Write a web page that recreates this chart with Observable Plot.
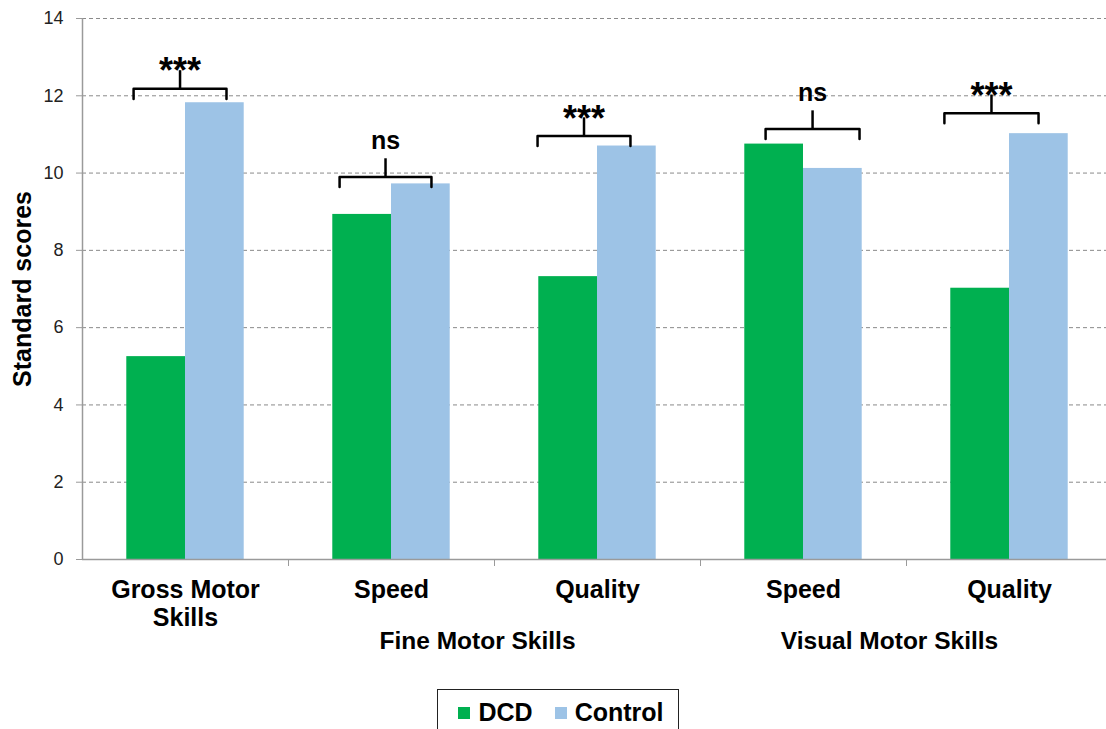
<!DOCTYPE html>
<html>
<head>
<meta charset="utf-8">
<script src="https://cdn.jsdelivr.net/npm/d3@7"></script>
<script src="https://cdn.jsdelivr.net/npm/@observablehq/plot@0.6"></script>
<style>
  html, body { margin: 0; padding: 0; background: #fff; }
  body { width: 1106px; height: 729px; overflow: hidden; font-family: "Liberation Sans", Arial, sans-serif; }
  #legend { display: flex; justify-content: center; margin-top: 9px; padding-left: 10px; }
  #legend .box { display: inline-flex; align-items: center; border: 1.5px solid #222; padding: 8px 14px 10px 20px; }
  #legend .item { display: inline-flex; align-items: center; font-weight: bold; font-size: 25px; color: #000; margin-right: 22px; }
  #legend .item:last-child { margin-right: 0; }
  #legend .sw { width: 12px; height: 12px; display: inline-block; margin-right: 8px; }
</style>
</head>
<body>
<div id="chart"></div>
<div id="legend"></div>
<script>
const categories = ["Gross Motor\nSkills", "Speed", "Quality", "Speed", "Quality"];
const dcd = [5.25, 8.93, 7.32, 10.75, 7.02];
const control = [11.82, 9.72, 10.7, 10.12, 11.02];
const sigLabels = ["***", "ns", "***", "ns", "***"];
const bracketLevels = [12.18, 9.9, 10.96, 11.14, 11.55];
const bracketLeft = [0.248, 1.248, 2.209, 3.316, 4.184];
const bracketRight = [0.699, 1.694, 2.660, 3.772, 4.641];
const groupNames = ["Fine Motor Skills", "Visual Motor Skills"];
const groupSpans = [[1, 2], [3, 4]];
const yTicks = [0, 2, 4, 6, 8, 10, 12, 14];
const series = ["DCD", "Control"];
const colors = ["#00B050", "#9DC3E6"];

// style constants
const BW = 0.285;          // bar width in category units
const DROP = 0.26, STEM = 0.47;
const FONT = "Liberation Sans, Arial, sans-serif";

const rows = categories.flatMap((c, i) => [
  {i, series: series[0], value: dcd[i]},
  {i, series: series[1], value: control[i]}
]);
const brackets = categories.map((c, i) => ({
  i, y: bracketLevels[i], label: sigLabels[i],
  l: bracketLeft[i], r: bracketRight[i], c: (bracketLeft[i] + bracketRight[i]) / 2
}));
const bracketPts = brackets.flatMap(b => [
  {i: b.i, x: b.l, y: b.y - DROP},
  {i: b.i, x: b.l, y: b.y},
  {i: b.i, x: b.r, y: b.y},
  {i: b.i, x: b.r, y: b.y - DROP}
]);
const groups = groupNames.map((g, k) => ({name: g, x: (groupSpans[k][0] + groupSpans[k][1] + 1) / 2}));
const centers = categories.map((c, i) => i + 0.5);
const bounds = categories.map((c, i) => i).slice(1);

const plot = Plot.plot({
  width: 1106,
  height: 680,
  marginLeft: 82,
  marginRight: 0,
  marginTop: 18,
  marginBottom: 121,
  style: {fontFamily: FONT, background: "#fff"},
  x: {domain: [0, 5], range: [82, 1112], axis: null},
  y: {domain: [0, 14], axis: null},
  color: {domain: series, range: colors},
  marks: [
    Plot.gridY(yTicks.filter(t => t > 0), {stroke: "#8a8a8a", strokeOpacity: 1, strokeDasharray: "4,3", strokeWidth: 1}),
    Plot.rectY(rows, {
      x1: d => d.i + 0.5 + (d.series === series[0] ? -BW : 0),
      x2: d => d.i + 0.5 + (d.series === series[0] ? 0 : BW),
      y: "value",
      fill: "series"
    }),
    Plot.ruleY([0], {stroke: "#9a9a9a", strokeWidth: 1.5}),
    Plot.ruleX([0], {stroke: "#9a9a9a", strokeWidth: 1.5}),
    Plot.axisY({ticks: yTicks, tickSize: 6, tickFormat: () => "", stroke: "#9a9a9a", label: null}),
    Plot.axisY({ticks: yTicks, tickSize: 0, tickPadding: 19, fill: "#222", fontSize: 18, label: null}),
    Plot.axisX({ticks: bounds, tickSize: 7, tickFormat: () => "", stroke: "#9a9a9a", label: null}),
    Plot.axisX({ticks: centers, tickSize: 0, tickPadding: 19, tickFormat: d => categories[Math.floor(d)],
      fill: "#000", fontSize: 25, fontWeight: "bold", lineHeight: 1.12, label: null}),
    Plot.text(groups, {x: "x", text: "name", frameAnchor: "bottom", dy: 89, dx: -17,
      fill: "#000", fontSize: 24.5, fontWeight: "bold"}),
    Plot.text(["Standard scores"], {frameAnchor: "left", textAnchor: "middle", dx: -60, rotate: -90,
      fill: "#000", fontSize: 25, fontWeight: "bold"}),
    Plot.line(bracketPts, {x: "x", y: "y", z: "i", stroke: "#000", strokeWidth: 2.5, strokeLinejoin: "round"}),
    Plot.ruleX(brackets, {x: "c", y1: "y", y2: d => d.y + STEM, stroke: "#000", strokeWidth: 2.5}),
    Plot.text(brackets.filter(d => d.label === "***"), {x: "c", y: "y", text: "label",
      dy: -17, fontSize: 36, fontWeight: "bold", fill: "#000"}),
    Plot.text(brackets.filter(d => d.label !== "***"), {x: "c", y: "y", text: "label",
      dy: -36, fontSize: 25, fontWeight: "bold", fill: "#000"})
  ]
});
document.getElementById("chart").appendChild(plot);

const box = document.createElement("div");
box.className = "box";
series.forEach((s, k) => {
  const item = document.createElement("span");
  item.className = "item";
  const sw = document.createElement("span");
  sw.className = "sw";
  sw.style.background = colors[k];
  item.appendChild(sw);
  item.appendChild(document.createTextNode(s));
  box.appendChild(item);
});
document.getElementById("legend").appendChild(box);
</script>
</body>
</html>
